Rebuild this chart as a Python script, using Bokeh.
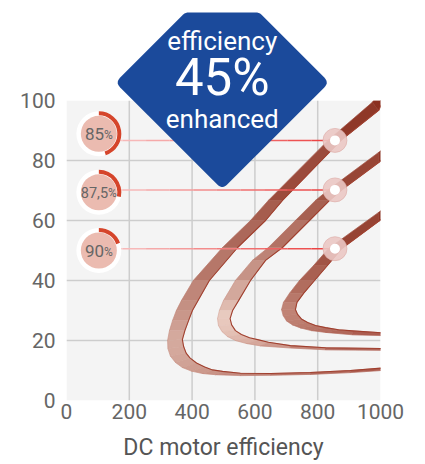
import numpy as np
from bokeh.plotting import figure
from bokeh.models import Range1d, FixedTicker, ColumnDataSource
from bokeh.embed import file_html
from bokeh.resources import INLINE
from bokeh.core.properties import value, field

# ---------------- data ----------------
x_ticks = [0, 200, 400, 600, 800, 1000]
y_ticks = [0, 20, 40, 60, 80, 100]
x_title = "DC motor efficiency"

level_labels = ["85", "87,5", "90"]
level_y = [86.7, 70.2, 50.6]          # connector height
marker_x = [855, 855, 855]            # where connector meets the band
donut_x = [103, 103, 103]
donut_y = [88.9, 69.4, 50.0]
arc_end_deg = [-72, -12, 20]

badge_lines = ["efficiency", "45%", "enhanced"]

band1_outer_x = [978, 974, 833, 643, 586, 497, 404, 366, 350, 338, 328, 322, 323, 331, 347, 369, 398, 433, 475, 554, 650, 777, 904, 1016]
band1_outer_y = [100.0, 99.4, 86.7, 66.7, 60.0, 51.0, 40.0, 33.3, 30.0, 26.7, 23.3, 20.0, 17.3, 14.8, 12.7, 11.0, 9.8, 9.0, 8.6, 8.3, 8.4, 8.7, 9.3, 10.1]
band1_inner_x = [1010, 994, 874, 688, 634, 545, 455, 419, 401, 389, 377, 369, 373, 381, 393, 414, 440, 465, 497, 554, 650, 777, 904, 1016]
band1_inner_y = [100.0, 96.7, 86.7, 66.7, 60.0, 51.0, 40.0, 33.3, 30.0, 26.7, 23.3, 20.3, 18.0, 15.8, 14.2, 12.5, 11.2, 10.2, 9.7, 9.1, 9.0, 9.35, 10.0, 10.9]

band2_outer_x = [1038, 994, 835, 793, 729, 643, 592, 538, 500, 487, 481, 484, 495, 513, 538, 573, 618, 713, 825, 1016]
band2_outer_y = [86.2, 82.7, 70.3, 66.7, 60.0, 51.0, 46.7, 40.0, 33.3, 30.0, 27.3, 25.0, 23.0, 21.3, 20.0, 19.0, 18.2, 17.5, 16.9, 16.7]
band2_inner_x = [1038, 994, 878, 838, 774, 688, 634, 586, 548, 529, 521, 526, 538, 557, 583, 612, 643, 713, 825, 1016]
band2_inner_y = [82.8, 79.3, 70.3, 66.7, 60.0, 51.0, 46.7, 40.0, 33.3, 30.0, 27.3, 25.2, 23.3, 22.0, 20.9, 20.2, 19.4, 18.3, 17.6, 17.3]

band3_outer_x = [1038, 994, 834, 787, 742, 710, 691, 685, 690, 701, 720, 745, 780, 825, 911, 1016]
band3_outer_y = [66.3, 62.7, 50.6, 45.0, 40.0, 35.7, 32.7, 30.3, 28.3, 26.5, 25.2, 24.2, 23.3, 22.7, 21.9, 21.6]
band3_inner_x = [1038, 994, 876, 831, 790, 755, 734, 729, 736, 748, 768, 793, 825, 866, 911, 1016]
band3_inner_y = [63.0, 59.7, 50.6, 45.0, 40.0, 35.7, 32.7, 30.3, 28.7, 27.2, 26.0, 25.0, 24.3, 23.6, 23.2, 22.5]

# ---------------- layout ----------------
W, H = 425, 464
BL, BR, BT, BB = 66, 45, 0, 64
FW, FH = W - BL - BR, H - BT - BB
X0, X1 = 0, 1000
Y0 = 0
Y1 = 100 * FH / 300.0
PXX = FW / (X1 - X0)
PXY = FH / (Y1 - Y0)

p = figure(width=W, height=H, x_range=Range1d(X0, X1), y_range=Range1d(Y0, Y1),
           output_backend="svg", toolbar_location=None,
           min_border_left=BL, min_border_right=BR, min_border_top=BT, min_border_bottom=BB)
p.background_fill_color = "white"
p.border_fill_color = "white"
p.outline_line_color = None
p.grid.visible = False

for ax in (p.xaxis[0], p.yaxis[0]):
    ax.axis_line_color = None
    ax.major_tick_line_color = None
    ax.minor_tick_line_color = None
    ax.major_tick_out = 0
    ax.major_tick_in = 0
    ax.minor_tick_out = 0
    ax.major_label_text_font = "Roboto"
    ax.major_label_text_font_size = "21px"
    ax.major_label_text_color = "#666666"
p.xaxis.ticker = FixedTicker(ticks=x_ticks)
p.yaxis.ticker = FixedTicker(ticks=y_ticks)
p.yaxis.major_label_standoff = 11
p.xaxis.major_label_standoff = 3
p.xaxis.axis_label = x_title
p.xaxis.axis_label_text_font = "Roboto"
p.xaxis.axis_label_text_font_size = "23px"
p.xaxis.axis_label_text_font_style = "normal"
p.xaxis.axis_label_text_color = "#555555"
p.xaxis.axis_label_standoff = 12

# plot area and grid
p.quad(left=[x_ticks[0]], right=[x_ticks[-1]], bottom=[y_ticks[0]], top=[y_ticks[-1]],
       fill_color="#f4f4f4", line_color=None)
gx = x_ticks[1:-1]
gy = y_ticks[1:-1]
p.segment(x0=gx, y0=[y_ticks[0]] * len(gx), x1=gx, y1=[y_ticks[-1]] * len(gx),
          line_color="#cdcdcd", line_width=1.5)
p.segment(x0=[x_ticks[0]] * len(gy), y0=gy, x1=[x_ticks[-1]] * len(gy), y1=gy,
          line_color="#cdcdcd", line_width=1.5)


def hex2rgb(h):
    h = h.lstrip("#")
    return np.array([int(h[i:i + 2], 16) for i in (0, 2, 4)], dtype=float)


def mix(c1, c2, t):
    a, b = hex2rgb(c1), hex2rgb(c2)
    c = a + (b - a) * float(np.clip(t, 0, 1))
    return "#%02x%02x%02x" % tuple(int(round(v)) for v in c)


bands = [
    (band1_outer_x, band1_outer_y, band1_inner_x, band1_inner_y, "#d9b2a6"),
    (band2_outer_x, band2_outer_y, band2_inner_x, band2_inner_y, "#efd6cb"),
    (band3_outer_x, band3_outer_y, band3_inner_x, band3_inner_y, "#c48c7e"),
]
DARK = "#8a2f1f"
END = "#a9574a"

for ox, oy, ix, iy, light in bands:
    n = len(ox)
    k = int(np.argmin(ox))
    ytop = max(max(oy), max(iy))
    ynose = oy[k]
    xnose = ox[k]
    xend = max(ox[-1], ix[-1])
    xs, ys, cols = [], [], []
    for i in range(n - 1):
        xs.append([ox[i], ox[i + 1], ix[i + 1], ix[i]])
        ys.append([oy[i], oy[i + 1], iy[i + 1], iy[i]])
        if i < k:
            ym = (oy[i] + oy[i + 1] + iy[i] + iy[i + 1]) / 4
            t = max(ym - ynose, 0) / (ytop - ynose)
            cols.append(mix(light, DARK, t ** 0.7))
        else:
            xm = (ox[i] + ox[i + 1] + ix[i] + ix[i + 1]) / 4
            t = (xm - xnose) / (xend - xnose)
            cols.append(mix(light, END, t ** 0.7))
    p.patches(xs, ys, fill_color=cols, line_color=cols, line_width=0.6, line_join="round")
    p.line(ox, oy, line_color="#b66a5c", line_width=0.7, line_alpha=0.3, line_join="round")
    p.line(ix, iy, line_color="#a0402f", line_width=1.1, line_join="round")

# keep everything above the plot area white
p.quad(left=[X0 - 50], right=[X1 + 50], bottom=[y_ticks[-1]], top=[Y1 + 10],
       fill_color="white", line_color=None)

# connectors with gradient
for dx, ly, mx in zip(donut_x, level_y, marker_x):
    pts = np.linspace(dx, mx, 11)
    cols = [mix("#f8c6c6", "#ec4444", t) for t in np.linspace(0, 1, 10)]
    p.segment(x0=pts[:-1], y0=[ly] * 10, x1=pts[1:], y1=[ly] * 10,
              line_color=cols, line_width=1.5)

# donuts
p.scatter(donut_x, donut_y, size=45, fill_color="white", line_color=None)
p.scatter(donut_x, donut_y, size=36, fill_color="#ebbbb0", line_color=None)
p.annular_wedge(x=donut_x, y=donut_y, inner_radius=18.5, inner_radius_units="screen",
                outer_radius=22.5, outer_radius_units="screen",
                start_angle=np.pi / 2, end_angle=[np.deg2rad(a) for a in arc_end_deg],
                direction="clock", fill_color="#d5452b", line_color=None)

# percentage labels
num_sizes = [17, 14.5, 17]
pct_size = 12
char_w = {",": 0.2}
splits = []
for lab, s in zip(level_labels, num_sizes):
    w_num = sum(char_w.get(c, 0.562) for c in lab) * s
    w_pct = 0.733 * pct_size
    splits.append((w_num - w_pct) / 2)
src_num = ColumnDataSource(dict(x=donut_x, y=donut_y, text=level_labels,
                                off=splits, size=["%gpx" % s for s in num_sizes]))
p.text(x="x", y="y", text="text", source=src_num, x_offset="off",
       text_font_size=field("size"), text_font=value("Roboto"), text_color="#666666",
       text_align="right", text_baseline="middle")
src_pct = ColumnDataSource(dict(x=donut_x, y=donut_y, text=["%"] * 3, off=splits))
p.text(x="x", y="y", text="text", source=src_pct, x_offset="off", y_offset=1,
       text_font_size="%dpx" % pct_size, text_font=value("Roboto"), text_color="#666666",
       text_align="left", text_baseline="middle")

# markers
p.scatter(marker_x, level_y, size=24, fill_color="#ebc8c4", fill_alpha=0.9,
          line_color="#dcaaa5", line_width=0.6)
p.scatter(marker_x, level_y, size=10, fill_color="white", line_color=None)

# badge (rounded, cut diamond)
CX, CY = 496, 106.0
verts = np.array([[-107, 0], [-37, -70], [37, -70], [107, 0], [0, 107]], dtype=float)
R = 7.0
outline = []
m = len(verts)
for j in range(m):
    V = verts[j]
    P = verts[j - 1]
    N = verts[(j + 1) % m]
    u1 = (P - V) / np.linalg.norm(P - V)
    u2 = (N - V) / np.linalg.norm(N - V)
    ang = np.arccos(np.clip(np.dot(u1, u2), -1, 1))
    d = R / np.tan(ang / 2)
    A = V + u1 * d
    B = V + u2 * d
    for t in np.linspace(0, 1, 8):
        q = (1 - t) ** 2 * A + 2 * (1 - t) * t * V + t ** 2 * B
        outline.append(q)
outline = np.array(outline)
bx = CX + outline[:, 0] / PXX
by = CY - outline[:, 1] / PXY
p.patch(bx, by, fill_color="#1b4a9b", line_color=None)

src_b = ColumnDataSource(dict(x=[CX] * 3, y=[119.8, 107.6, 93.9], text=badge_lines,
                              size=["26px", "51px", "26px"]))
p.text(x="x", y="y", text="text", source=src_b, text_font_size=field("size"),
       text_font=value("Roboto"), text_color="white", text_align="center",
       text_baseline="middle")

open("out.html", "w").write(file_html(p, INLINE))
